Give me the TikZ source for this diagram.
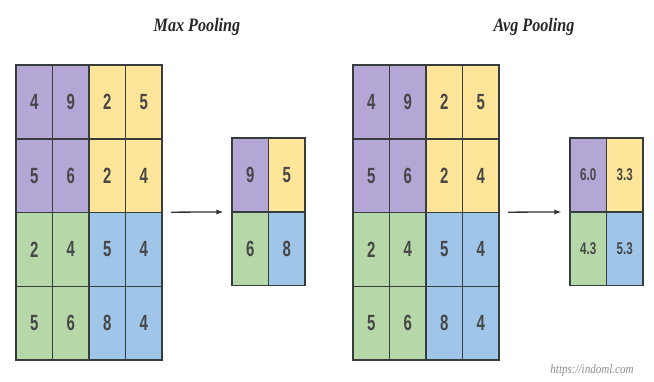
\documentclass[tikz,border=0pt]{standalone}
\usepackage{fontspec}
\setmainfont{Liberation Serif}
\newfontfamily\cellfont[FakeStretch=0.68]{Liberation Sans}
\newfontfamily\titlefont[FakeStretch=0.85]{Liberation Serif}
\usetikzlibrary{arrows,positioning,fit}
\definecolor{quad0}{HTML}{B4A7D6}
\definecolor{quad1}{HTML}{FFE599}
\definecolor{quad2}{HTML}{B6D7A8}
\definecolor{quad3}{HTML}{9FC5E8}
\definecolor{gridline}{RGB}{55,60,60}

\begin{document}
\begin{tikzpicture}[x=1pt, y=-1pt,
  cell/.style={draw=gridline, line width=1.5pt, minimum width=36.5pt, minimum height=73.75pt, inner sep=0pt, font=\cellfont\bfseries\fontsize{22}{22}\selectfont, text=black!72},
  smallnum/.style={font=\cellfont\bfseries\fontsize{17}{17}\selectfont},
  title/.style={font=\titlefont\bfseries\itshape\fontsize{19}{19}\selectfont, text=black!85},
  arrow/.style={-latex, draw=black!80, line width=1.3pt, shorten <=8pt, shorten >=8pt}]
\useasboundingbox (0,0) rectangle (654,382);
% titles
\node[title] (maxtitle) at (197,27) {Max Pooling};
\node[title] (avgtitle) at (534,27) {Avg Pooling};
% input 4x4 grids (same data twice)
\foreach \name/\xo in {max/16, avg/353} {
  \foreach \v [count=\i from 0] in {4,9,2,5,5,6,2,4,2,4,5,4,5,6,8,4} {
    \pgfmathtruncatemacro\r{div(\i,4)}
    \pgfmathtruncatemacro\c{mod(\i,4)}
    \pgfmathtruncatemacro\q{2*(\r>1)+(\c>1)}
    \node[cell, fill=quad\q] (\name-\r\c) at (\xo+18.25+36.5*\c, 101.9+73.75*\r) {\v};
  }
}
\node[fit=(max-00)(max-33), inner sep=0pt] (maxin) {};
\node[fit=(avg-00)(avg-33), inner sep=0pt] (avgin) {};
% pooled 2x2 outputs
\foreach \v [count=\i from 0] in {9,5,6,8} {
  \pgfmathtruncatemacro\r{div(\i,2)}
  \pgfmathtruncatemacro\c{mod(\i,2)}
  \pgfmathtruncatemacro\q{2*\r+\c}
  \node[cell, fill=quad\q] (maxo-\r\c) at (250.25+36.5*\c, 174.9+73.75*\r) {\v};
}
\foreach \v [count=\i from 0] in {6.0,3.3,4.3,5.3} {
  \pgfmathtruncatemacro\r{div(\i,2)}
  \pgfmathtruncatemacro\c{mod(\i,2)}
  \pgfmathtruncatemacro\q{2*\r+\c}
  \node[cell, smallnum, fill=quad\q] (avgo-\r\c) at (588.25+36.5*\c, 174.9+73.75*\r) {\v};
}
\node[fit=(maxo-00)(maxo-11), inner sep=0pt] (maxout) {};
\node[fit=(avgo-00)(avgo-11), inner sep=0pt] (avgout) {};
\draw[arrow] (maxin) -- (maxout);
\draw[arrow] (avgin) -- (avgout);
% watermark
\node[font=\titlefont\itshape\fontsize{13}{13}\selectfont, text=black!45] (mark) at (592,370) {https://indoml.com};
\end{tikzpicture}
\end{document}
